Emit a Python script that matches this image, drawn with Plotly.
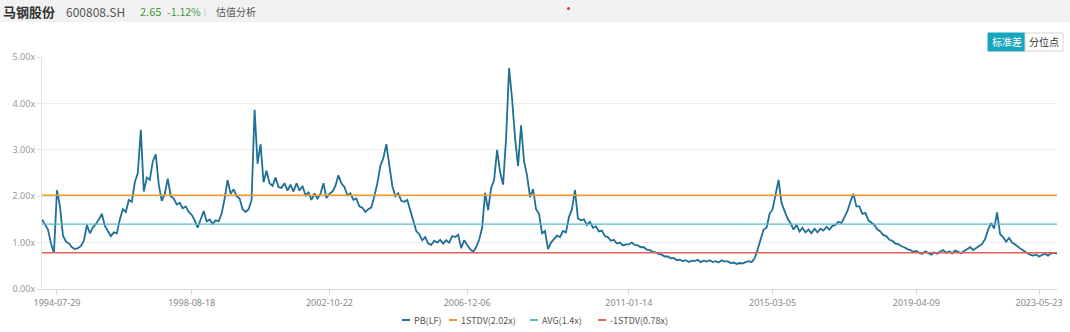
import plotly.graph_objects as go
import pandas as pd

# ---------------- data ----------------
tick_dates = ["1994-07-29", "1998-08-18", "2002-10-22", "2006-12-06",
              "2011-01-14", "2015-03-05", "2019-04-09", "2023-05-23"]
first_date = "1994-04-06"
last_date = "2023-10-13"

# PB(LF) readings, one list per stretch between labelled dates
pb_seg0 = [1.50, 1.40, 1.28, 0.98, 0.78]
pb_seg1 = [2.13, 1.78, 1.15, 1.02, 0.98, 0.90, 0.86, 0.88, 0.93, 1.04,
           1.38, 1.20, 1.33, 1.40, 1.50, 1.62, 1.36, 1.25, 1.14, 1.22,
           1.20, 1.50, 1.72, 1.66, 1.92, 1.88, 2.30, 2.50, 3.43, 2.10,
           2.40, 2.35, 2.75, 2.90, 2.25, 1.90, 2.05, 2.38, 2.00, 1.95,
           1.82, 1.86, 1.74, 1.78, 1.66]
pb_seg2 = [1.60, 1.48, 1.32, 1.50, 1.68, 1.46, 1.50, 1.40, 1.48, 1.46,
           1.62, 1.95, 2.35, 2.05, 2.15, 2.00, 1.95, 1.72, 1.66, 1.72,
           1.92, 3.86, 2.70, 3.12, 2.30, 2.55, 2.28, 2.22, 2.40, 2.20,
           2.18, 2.28, 2.12, 2.25, 2.10, 2.28, 2.12, 2.22, 2.02, 2.08,
           1.92, 2.06, 1.95, 2.05, 2.28, 1.96]
pb_seg3 = [2.05, 2.10, 2.22, 2.45, 2.28, 2.20, 2.02, 2.06, 1.92, 1.95,
           1.78, 1.75, 1.66, 1.72, 1.76, 2.00, 2.28, 2.65, 2.82, 3.12,
           2.70, 2.22, 2.00, 2.06, 1.90, 1.88, 1.92, 1.68, 1.48, 1.25,
           1.18, 1.05, 1.12, 0.98, 0.95, 1.04, 1.00, 1.06, 0.98, 1.05,
           1.00, 1.14, 1.12, 1.17, 0.88, 1.05]
pb_seg4 = [0.95, 0.86, 0.80, 0.90, 1.06, 1.32, 2.07, 1.70, 2.18, 2.35,
           3.00, 2.52, 2.25, 3.25, 4.76, 4.10, 3.25, 2.65, 3.53, 2.75,
           2.45, 1.98, 2.15, 1.72, 1.62, 1.20, 1.25, 0.86, 1.00, 1.08,
           1.15, 1.12, 1.25, 1.22, 1.55, 1.72, 2.13, 1.52, 1.48, 1.50,
           1.38, 1.45, 1.32, 1.35, 1.24, 1.26, 1.14, 1.12, 1.04, 1.06,
           0.98, 1.00, 0.94, 0.96]
pb_seg5 = [0.96, 1.00, 0.95, 0.94, 0.90, 0.90, 0.85, 0.84, 0.80, 0.79,
           0.75, 0.74, 0.70, 0.70, 0.66, 0.67, 0.62, 0.63, 0.60, 0.62,
           0.58, 0.61, 0.60, 0.63, 0.58, 0.61, 0.59, 0.62, 0.58, 0.60,
           0.57, 0.62, 0.59, 0.60, 0.56, 0.57, 0.54, 0.56, 0.55, 0.58,
           0.60, 0.58, 0.66, 0.85, 1.05, 1.28, 1.32, 1.62]
pb_seg6 = [1.72, 2.05, 2.35, 1.85, 1.68, 1.52, 1.42, 1.28, 1.38, 1.24,
           1.32, 1.22, 1.28, 1.20, 1.30, 1.22, 1.30, 1.26, 1.34, 1.28,
           1.36, 1.38, 1.45, 1.42, 1.55, 1.68, 1.88, 2.05, 1.78, 1.78,
           1.62, 1.64, 1.48, 1.42, 1.38, 1.28, 1.24, 1.16, 1.14, 1.06,
           1.04, 0.98, 0.97, 0.92, 0.90, 0.86, 0.84, 0.80]
pb_seg7 = [0.82, 0.78, 0.76, 0.81, 0.77, 0.74, 0.79, 0.76, 0.81, 0.84,
           0.78, 0.81, 0.77, 0.83, 0.80, 0.77, 0.82, 0.86, 0.90, 0.84,
           0.89, 0.92, 0.97, 1.08, 1.28, 1.42, 1.30, 1.65, 1.18, 1.12,
           1.02, 1.10, 1.00, 0.96, 0.90, 0.86, 0.82, 0.78, 0.74, 0.72,
           0.74]
pb_seg8 = [0.70, 0.73, 0.76, 0.72, 0.77, 0.78, 0.76]

stdv_up = 2.02
avg_pb = 1.40
stdv_dn = 0.78

series_names = ["PB(LF)", "1STDV(2.02x)", "AVG(1.4x)", "-1STDV(0.78x)"]

y_ticks = [0, 1, 2, 3, 4, 5]
y_tick_text = ["0.00x", "1.00x", "2.00x", "3.00x", "4.00x", "5.00x"]

# ---------------- build series ----------------
segments = [pb_seg0, pb_seg1, pb_seg2, pb_seg3, pb_seg4,
            pb_seg5, pb_seg6, pb_seg7, pb_seg8]
bounds = [first_date] + tick_dates + [last_date]
dates, values = [], []
for i, seg in enumerate(segments):
    last = i == len(segments) - 1
    rng = pd.date_range(bounds[i], bounds[i + 1],
                        periods=len(seg) if last else len(seg) + 1)
    if not last:
        rng = rng[:-1]
    dates += [d.strftime("%Y-%m-%d") for d in rng]
    values += seg

# ---------------- figure ----------------
C_PB = "#1f6f96"
C_UP = "#f39a2b"
C_AVG = "#58bcc6"
C_DN = "#e0605a"
colors = [C_PB, C_UP, C_AVG, C_DN]

fig = go.Figure()
fig.add_trace(go.Scatter(x=dates, y=values, mode="lines", name=series_names[0],
                         line=dict(color=C_PB, width=1.8), showlegend=False))
for name, lvl, col, w in [(series_names[1], stdv_up, C_UP, 1.6),
                          (series_names[2], avg_pb, C_AVG, 1.2),
                          (series_names[3], stdv_dn, C_DN, 1.4)]:
    fig.add_trace(go.Scatter(x=[dates[0], dates[-1]], y=[lvl, lvl],
                             mode="lines", name=name, showlegend=False,
                             line=dict(color=col, width=w)))

W, H = 1070, 332
L, R, T, B = 42, 1057, 57, 289


def px(x):
    return (x - L) / (R - L)


def py(y):
    return (B - y) / (B - T)


CJK = "Noto Sans CJK SC"
shapes = [
    dict(type="rect", xref="paper", yref="paper", x0=px(0), x1=px(W),
         y0=py(22), y1=py(0), fillcolor="#f2f2f2", line=dict(width=0),
         layer="below"),
    dict(type="line", xref="paper", yref="paper", x0=px(205), x1=px(205),
         y0=py(7), y1=py(16), line=dict(color="#d0d0d0", width=1)),
    dict(type="circle", xref="paper", yref="paper", x0=px(567), x1=px(570),
         y0=py(10), y1=py(7), fillcolor="#e03030", line=dict(width=0)),
    dict(type="rect", xref="paper", yref="paper", x0=px(988), x1=px(1025),
         y0=py(51), y1=py(33), fillcolor="#17a6bd",
         line=dict(color="#17a6bd", width=1)),
    dict(type="rect", xref="paper", yref="paper", x0=px(1025), x1=px(1063),
         y0=py(51), y1=py(33), fillcolor="#ffffff",
         line=dict(color="#d5d5d5", width=1)),
]


def ann(text, x, y, size, color, anchor="left", bold=False):
    return dict(text=f"<b>{text}</b>" if bold else text, xref="paper",
                yref="paper", x=px(x), y=py(y), xanchor=anchor,
                yanchor="middle", showarrow=False,
                font=dict(family=CJK, size=size, color=color))


annotations = [
    ann("马钢股份", 1, 11, 13, "#333333", bold=True),
    ann("600808.SH", 64, 11, 12, "#555555"),
    ann("2.65", 138, 11, 11, "#3f9a3f"),
    ann("-1.12%", 165, 11, 10.5, "#3f9a3f"),
    ann("估值分析", 214, 11, 10, "#555555"),
    ann("标准差", 1006.5, 42, 10, "#ffffff", anchor="center"),
    ann("分位点", 1044, 42, 10, "#333333", anchor="center"),
]

# legend drawn as short line keys with labels
legend_x = [402, 449, 530, 598]
for name, col, lx in zip(series_names, colors, legend_x):
    shapes.append(dict(type="line", xref="paper", yref="paper",
                       x0=px(lx), x1=px(lx + 8), y0=py(320), y1=py(320),
                       line=dict(color=col, width=2)))
    annotations.append(ann(name, lx + 10, 320.5, 9, "#555555"))

fig.update_layout(
    width=W, height=H,
    margin=dict(l=L, r=W - R, t=T, b=H - B, autoexpand=False),
    paper_bgcolor="#ffffff", plot_bgcolor="#ffffff",
    font=dict(family="Noto Sans, " + CJK, size=9, color="#888888"),
    showlegend=False,
    shapes=shapes, annotations=annotations,
    hovermode="x",
)
fig.update_xaxes(type="category", tickmode="array", tickvals=tick_dates,
                 ticktext=tick_dates, range=[0, len(dates) - 1],
                 showgrid=False, showline=True, linecolor="#d9d9d9",
                 ticks="outside", ticklen=5, tickcolor="#d9d9d9",
                 tickfont=dict(size=9, color="#888888"), zeroline=False)
fig.update_yaxes(range=[0, 5], tickmode="array", tickvals=y_ticks,
                 ticktext=y_tick_text, showgrid=True, gridcolor="#ececec",
                 showline=True, linecolor="#e3e3e3", ticks="outside",
                 ticklen=4, tickcolor="#e3e3e3", zeroline=False,
                 tickfont=dict(size=9, color="#999999"))

fig.write_html("out.html")
